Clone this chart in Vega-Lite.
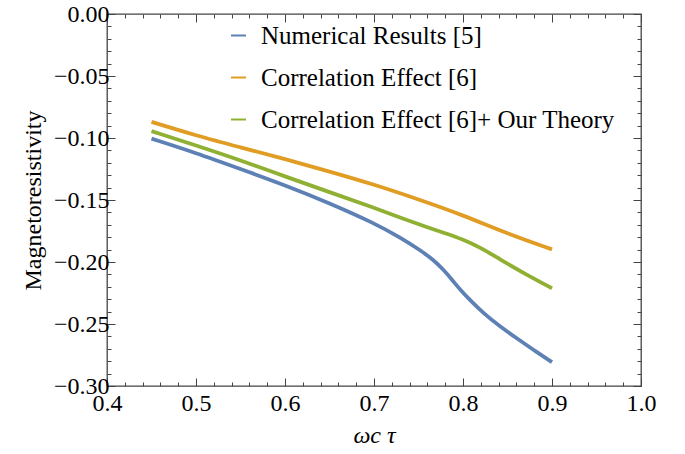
{
  "$schema": "https://vega.github.io/schema/vega-lite/v6.json",
  "width": 534,
  "height": 372,
  "autosize": {"type": "none"},
  "padding": {"left": 107, "top": 14, "right": 44, "bottom": 68},
  "config": {
    "font": "Liberation Serif",
    "view": {"stroke": "#444", "strokeWidth": 1.3},
    "axis": {
      "domain": false,
      "grid": false,
      "tickColor": "#444",
      "tickWidth": 1,
      "labelFont": "Liberation Serif",
      "labelFontSize": 24,
      "labelColor": "#000",
      "titleFont": "Liberation Serif",
      "titleFontSize": 24,
      "titleFontWeight": "normal",
      "titleColor": "#000",
      "labelOverlap": false,
      "labelFlush": false
    }
  },
  "datasets": {
    "d": [
      {"wt": 0.45, "rho": -0.1005, "series": "Numerical Results [5]"},
      {"wt": 0.50, "rho": -0.112, "series": "Numerical Results [5]"},
      {"wt": 0.55, "rho": -0.125, "series": "Numerical Results [5]"},
      {"wt": 0.60, "rho": -0.138, "series": "Numerical Results [5]"},
      {"wt": 0.65, "rho": -0.1525, "series": "Numerical Results [5]"},
      {"wt": 0.70, "rho": -0.1685, "series": "Numerical Results [5]"},
      {"wt": 0.73, "rho": -0.1805, "series": "Numerical Results [5]"},
      {"wt": 0.752, "rho": -0.1905, "series": "Numerical Results [5]"},
      {"wt": 0.767, "rho": -0.1984, "series": "Numerical Results [5]"},
      {"wt": 0.778, "rho": -0.2062, "series": "Numerical Results [5]"},
      {"wt": 0.788, "rho": -0.2145, "series": "Numerical Results [5]"},
      {"wt": 0.797, "rho": -0.2226, "series": "Numerical Results [5]"},
      {"wt": 0.808, "rho": -0.2308, "series": "Numerical Results [5]"},
      {"wt": 0.823, "rho": -0.2414, "series": "Numerical Results [5]"},
      {"wt": 0.842, "rho": -0.2522, "series": "Numerical Results [5]"},
      {"wt": 0.861, "rho": -0.2618, "series": "Numerical Results [5]"},
      {"wt": 0.879, "rho": -0.2708, "series": "Numerical Results [5]"},
      {"wt": 0.90, "rho": -0.2808, "series": "Numerical Results [5]"},
      {"wt": 0.45, "rho": -0.087, "series": "Correlation Effect [6]"},
      {"wt": 0.50, "rho": -0.098, "series": "Correlation Effect [6]"},
      {"wt": 0.55, "rho": -0.1075, "series": "Correlation Effect [6]"},
      {"wt": 0.60, "rho": -0.117, "series": "Correlation Effect [6]"},
      {"wt": 0.65, "rho": -0.127, "series": "Correlation Effect [6]"},
      {"wt": 0.70, "rho": -0.1375, "series": "Correlation Effect [6]"},
      {"wt": 0.75, "rho": -0.1495, "series": "Correlation Effect [6]"},
      {"wt": 0.80, "rho": -0.1622, "series": "Correlation Effect [6]"},
      {"wt": 0.85, "rho": -0.1772, "series": "Correlation Effect [6]"},
      {"wt": 0.90, "rho": -0.1898, "series": "Correlation Effect [6]"},
      {"wt": 0.45, "rho": -0.0945, "series": "Correlation Effect [6]+ Our Theory"},
      {"wt": 0.50, "rho": -0.106, "series": "Correlation Effect [6]+ Our Theory"},
      {"wt": 0.55, "rho": -0.118, "series": "Correlation Effect [6]+ Our Theory"},
      {"wt": 0.60, "rho": -0.131, "series": "Correlation Effect [6]+ Our Theory"},
      {"wt": 0.65, "rho": -0.1437, "series": "Correlation Effect [6]+ Our Theory"},
      {"wt": 0.70, "rho": -0.1562, "series": "Correlation Effect [6]+ Our Theory"},
      {"wt": 0.73, "rho": -0.1645, "series": "Correlation Effect [6]+ Our Theory"},
      {"wt": 0.76, "rho": -0.172, "series": "Correlation Effect [6]+ Our Theory"},
      {"wt": 0.78, "rho": -0.1768, "series": "Correlation Effect [6]+ Our Theory"},
      {"wt": 0.80, "rho": -0.1818, "series": "Correlation Effect [6]+ Our Theory"},
      {"wt": 0.82, "rho": -0.1885, "series": "Correlation Effect [6]+ Our Theory"},
      {"wt": 0.84, "rho": -0.1972, "series": "Correlation Effect [6]+ Our Theory"},
      {"wt": 0.87, "rho": -0.2097, "series": "Correlation Effect [6]+ Our Theory"},
      {"wt": 0.90, "rho": -0.2212, "series": "Correlation Effect [6]+ Our Theory"}
    ]
  },
  "data": {"name": "d"},
  "layer": [
    {
      "mark": {"type": "line", "strokeWidth": 3.8, "interpolate": "basis"},
      "encoding": {
        "x": {
          "field": "wt",
          "type": "quantitative",
          "scale": {"domain": [0.4, 1.0], "nice": false, "zero": false},
          "axis": {
            "orient": "bottom",
            "title": "ωc τ",
            "titleFontStyle": "italic",
            "titlePadding": 4,
            "values": [0.4, 0.42, 0.44, 0.46, 0.48, 0.5, 0.52, 0.54, 0.56, 0.58, 0.6, 0.62, 0.64, 0.66, 0.68, 0.7, 0.72, 0.74, 0.76, 0.78, 0.8, 0.82, 0.84, 0.86, 0.88, 0.9, 0.92, 0.94, 0.96, 0.98, 1.0],
            "labelExpr": "abs(datum.value*10 - round(datum.value*10)) < 0.000001 ? format(datum.value, '.1f') : ''",
            "tickSize": {"condition": {"test": "abs(datum.value*10 - round(datum.value*10)) < 0.000001", "value": -8}, "value": -4},
            "labelPadding": 13,
            "encode": {"labels": {"update": {"font": {"value": "Liberation Serif"}, "fontSize": {"value": 24}}}}
          }
        },
        "y": {
          "field": "rho",
          "type": "quantitative",
          "scale": {"domain": [-0.3, 0.0], "nice": false, "zero": false},
          "axis": {
            "orient": "left",
            "title": "Magnetoresistivity",
            "titlePadding": 8,
            "values": [-0.3, -0.29, -0.28, -0.27, -0.26, -0.25, -0.24, -0.23, -0.22, -0.21, -0.2, -0.19, -0.18, -0.17, -0.16, -0.15, -0.14, -0.13, -0.12, -0.11, -0.1, -0.09, -0.08, -0.07, -0.06, -0.05, -0.04, -0.03, -0.02, -0.01, 0.0],
            "labelExpr": "abs(datum.value*20 - round(datum.value*20)) < 0.000001 ? format(datum.value, '.2f') : ''",
            "tickSize": {"condition": {"test": "abs(datum.value*20 - round(datum.value*20)) < 0.000001", "value": -8}, "value": -4},
            "labelPadding": 6,
            "encode": {"labels": {"update": {"font": {"value": "Liberation Serif"}, "fontSize": {"value": 24}}}}
          }
        },
        "color": {
          "field": "series",
          "type": "nominal",
          "scale": {
            "domain": ["Numerical Results [5]", "Correlation Effect [6]", "Correlation Effect [6]+ Our Theory"],
            "range": ["#5E81B5", "#E19C24", "#8FB032"]
          },
          "legend": {
            "orient": "none",
            "legendX": 119,
            "legendY": 9,
            "title": null,
            "labelFont": "Liberation Serif",
            "labelFontSize": 25,
            "labelColor": "#000",
            "labelLimit": 600,
            "symbolType": "stroke",
            "symbolStrokeWidth": 2,
            "symbolSize": 225,
            "labelOffset": 10,
            "rowPadding": 16
          }
        }
      }
    },
    {
      "mark": {"type": "line", "opacity": 0},
      "encoding": {
        "x": {
          "field": "wt",
          "type": "quantitative",
          "axis": {
            "orient": "top",
            "title": null,
            "labels": false,
            "values": [0.4, 0.42, 0.44, 0.46, 0.48, 0.5, 0.52, 0.54, 0.56, 0.58, 0.6, 0.62, 0.64, 0.66, 0.68, 0.7, 0.72, 0.74, 0.76, 0.78, 0.8, 0.82, 0.84, 0.86, 0.88, 0.9, 0.92, 0.94, 0.96, 0.98, 1.0],
            "tickSize": {"condition": {"test": "abs(datum.value*10 - round(datum.value*10)) < 0.000001", "value": -8}, "value": -4}
          }
        },
        "y": {
          "field": "rho",
          "type": "quantitative",
          "axis": {
            "orient": "right",
            "title": null,
            "labels": false,
            "values": [-0.3, -0.29, -0.28, -0.27, -0.26, -0.25, -0.24, -0.23, -0.22, -0.21, -0.2, -0.19, -0.18, -0.17, -0.16, -0.15, -0.14, -0.13, -0.12, -0.11, -0.1, -0.09, -0.08, -0.07, -0.06, -0.05, -0.04, -0.03, -0.02, -0.01, 0.0],
            "tickSize": {"condition": {"test": "abs(datum.value*20 - round(datum.value*20)) < 0.000001", "value": -8}, "value": -4}
          }
        },
        "detail": {"field": "series", "type": "nominal"}
      }
    }
  ],
  "resolve": {"axis": {"x": "independent", "y": "independent"}}
}
